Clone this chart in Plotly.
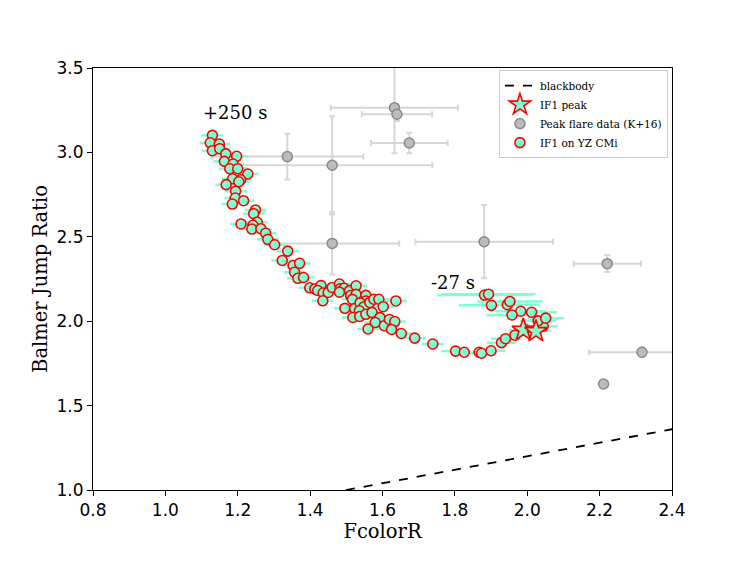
import plotly.graph_objects as go

# IF1 flare on YZ CMi: FcolorR vs Balmer jump ratio
if1_fcolor = [
    1.130, 1.124, 1.149, 1.130, 1.150, 1.167, 1.197, 1.163, 1.187, 1.178,
    1.200, 1.228, 1.186, 1.208, 1.203, 1.168, 1.194, 1.193, 1.216, 1.185,
    1.249, 1.244, 1.209, 1.254, 1.242, 1.239, 1.264, 1.277, 1.283, 1.302,
    1.338, 1.323, 1.353, 1.371, 1.357, 1.366, 1.382, 1.399, 1.413, 1.430,
    1.421, 1.436, 1.435, 1.450, 1.461, 1.481, 1.483, 1.494, 1.481, 1.509,
    1.527, 1.512, 1.527, 1.517, 1.554, 1.554, 1.496, 1.523, 1.538, 1.548,
    1.536, 1.518, 1.537, 1.554, 1.571, 1.565, 1.576, 1.590, 1.602, 1.593,
    1.580, 1.605, 1.619, 1.634, 1.560, 1.625, 1.637, 1.652, 1.689, 1.739,
    1.802, 1.826, 1.867, 1.874, 1.900, 1.929, 1.940, 1.966, 1.990, 2.025,
    2.044, 2.030, 2.051, 2.012, 1.982, 1.958, 1.945, 1.952, 1.901, 1.882,
    1.893,
]
if1_bjr = [
    3.101, 3.057, 3.050, 3.010, 3.022, 2.991, 2.977, 2.947, 2.931, 2.903,
    2.903, 2.872, 2.844, 2.838, 2.826, 2.809, 2.770, 2.730, 2.714, 2.694,
    2.659, 2.637, 2.576, 2.586, 2.568, 2.546, 2.548, 2.521, 2.485, 2.453,
    2.415, 2.360, 2.330, 2.343, 2.290, 2.254, 2.259, 2.198, 2.191, 2.211,
    2.182, 2.167, 2.121, 2.170, 2.200, 2.220, 2.192, 2.195, 2.172, 2.181,
    2.210, 2.152, 2.159, 2.129, 2.153, 2.120, 2.076, 2.075, 2.108, 2.084,
    2.062, 2.022, 2.028, 2.041, 2.052, 2.111, 2.130, 2.130, 2.086, 2.021,
    1.992, 1.973, 2.010, 1.998, 1.954, 1.951, 2.120, 1.927, 1.900, 1.865,
    1.823, 1.816, 1.816, 1.810, 1.825, 1.873, 1.896, 1.917, 1.948, 1.944,
    1.970, 2.002, 2.018, 2.053, 2.059, 2.037, 2.098, 2.117, 2.094, 2.155,
    2.160,
]
if1_fcolor_err = [0.03] * 78 + [
    0.03, 0.03, 0.04, 0.04, 0.04, 0.04, 0.04, 0.04, 0.04, 0.04, 0.04, 0.04,
    0.04, 0.05, 0.05, 0.07, 0.07, 0.07, 0.09, 0.09, 0.09, 0.13, 0.13,
]

# peak of IF1
peak_fcolor = [1.989, 2.024]
peak_bjr = [1.948, 1.940]

# peak flare data from Kowalski et al. 2016
k16_fcolor = [1.633, 1.640, 1.674, 1.337, 1.461, 1.461, 1.881, 2.221, 2.317, 2.211, 1.995]
k16_bjr = [3.265, 3.226, 3.056, 2.975, 2.924, 2.461, 2.471, 2.341, 1.816, 1.628, 1.952]
k16_fcolor_err = [0.176, 0.097, 0.106, 0.21, 0.277, 0.185, 0.19, 0.093, 0.146, 0.0, 0.03]
k16_bjr_err = [0.27, 0.04, 0.061, 0.136, 0.29, 0.185, 0.217, 0.05, 0.03, 0.0, 0.03]

# blackbody relation
bb_fcolor = [1.45, 1.80, 2.10, 2.45]
bb_bjr = [0.98, 1.12, 1.24, 1.38]

serif = "DejaVu Serif"
sans = "DejaVu Sans"

fig = go.Figure()

fig.add_trace(go.Scatter(
    x=k16_fcolor, y=k16_bjr, mode="markers",
    name="Peak flare data (K+16)", legendrank=3,
    marker=dict(size=10, color="#bcbcbc", line=dict(color="#8a8a8a", width=1.5)),
    error_x=dict(type="data", array=k16_fcolor_err, color="#d6d6d6", thickness=2, width=3),
    error_y=dict(type="data", array=k16_bjr_err, color="#d6d6d6", thickness=2, width=3),
))

fig.add_trace(go.Scatter(
    x=if1_fcolor, y=if1_bjr, mode="markers",
    name="IF1 on YZ CMi", legendrank=4,
    marker=dict(size=10, color="#7fffd4", line=dict(color="red", width=1.6)),
    error_x=dict(type="data", array=if1_fcolor_err, color="#7fffd4", thickness=2.5, width=0),
))

fig.add_trace(go.Scatter(
    x=peak_fcolor, y=peak_bjr, mode="markers",
    name="IF1 peak", legendrank=2,
    marker=dict(symbol="star", size=17, color="#7fffd4", line=dict(color="red", width=1.6)),
))

fig.add_trace(go.Scatter(
    x=bb_fcolor, y=bb_bjr, mode="lines",
    name="blackbody", legendrank=1,
    line=dict(color="black", width=1.8, dash="dash"),
))

fig.add_annotation(x=1.192, y=3.237, text="+250 s", showarrow=False,
                   font=dict(family=serif, size=18, color="black"))
fig.add_annotation(x=1.795, y=2.232, text="-27 s", showarrow=False,
                   font=dict(family=serif, size=18, color="black"))

axis_style = dict(
    showline=True, mirror=True, linecolor="black", linewidth=1,
    ticks="outside", ticklen=5, tickcolor="black",
    showgrid=False, zeroline=False,
    tickfont=dict(family=sans, size=17, color="black"),
)

# page body has an 8px margin, so shift the plot area up/left by that much
fig.update_layout(
    width=747, height=561,
    margin=dict(l=85, r=83, t=60, b=79),
    plot_bgcolor="white", paper_bgcolor="white",
    showlegend=True,
    legend=dict(
        x=0.993, y=0.995, xanchor="right", yanchor="top",
        bgcolor="white", bordercolor="#cccccc", borderwidth=1,
        font=dict(family=serif, size=10.5, color="black"),
        tracegroupgap=0, itemsizing="trace",
    ),
    xaxis=dict(
        range=[0.8, 2.4], dtick=0.2, tick0=0.8, tickformat=".1f",
        title=dict(text="FcolorR", font=dict(family=serif, size=19.5, color="black"), standoff=0),
        **axis_style,
    ),
    yaxis=dict(
        range=[1.0, 3.5], dtick=0.5, tick0=1.0, tickformat=".1f",
        title=dict(text="Balmer Jump Ratio", font=dict(family=serif, size=19.5, color="black"), standoff=3),
        **axis_style,
    ),
)

fig.write_html("out.html")
